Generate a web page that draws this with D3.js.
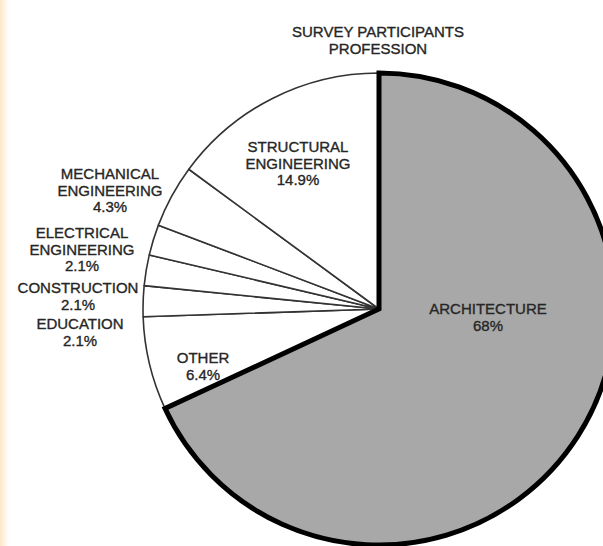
<!DOCTYPE html>
<html>
<head>
<meta charset="utf-8">
<script src="https://cdn.jsdelivr.net/npm/d3@7/dist/d3.min.js"></script>
<style>
  html, body { margin: 0; padding: 0; background: #ffffff; }
  svg { display: block; }
  text { font-family: "Liberation Sans", Arial, Helvetica, sans-serif; font-size: 15px; fill: #262626; stroke: #262626; stroke-width: 0.35px; }
</style>
</head>
<body>
<script>
// Survey participants by profession (percent), clockwise from 12 o'clock
const categories = ["ARCHITECTURE", "OTHER", "EDUCATION", "CONSTRUCTION",
                    "ELECTRICAL ENGINEERING", "MECHANICAL ENGINEERING", "STRUCTURAL ENGINEERING"];
const shares = [68, 6.4, 2.1, 2.1, 2.1, 4.3, 14.9];
const labelLines = [["ARCHITECTURE"], ["OTHER"], ["EDUCATION"], ["CONSTRUCTION"],
                    ["ELECTRICAL", "ENGINEERING"], ["MECHANICAL", "ENGINEERING"], ["STRUCTURAL", "ENGINEERING"]];
const titleLines = ["SURVEY PARTICIPANTS", "PROFESSION"];

// Layout
const W = 603, H = 546;
const cx = 379, cy = 309, R = 236;
const lineH = 16.5;
// label anchors, relative to the pie centre (x = text centre, y = first baseline)
const labelAt = [[109, 5], [-176, 54], [-299, 20], [-301, -16], [-297, -71], [-269, -130], [-81, -157]];

const svg = d3.select("body").append("svg").attr("width", W).attr("height", H);

// soft tinted strip along the left edge
const grad = svg.append("defs").append("linearGradient").attr("id", "edge")
  .attr("x1", 0).attr("x2", 1).attr("y1", 0).attr("y2", 0);
grad.append("stop").attr("offset", 0).attr("stop-color", "#fde6c8");
grad.append("stop").attr("offset", 0.5).attr("stop-color", "#fff4e4");
grad.append("stop").attr("offset", 1).attr("stop-color", "#ffffff");
svg.append("rect").attr("width", W).attr("height", H).attr("fill", "#ffffff");
svg.append("rect").attr("width", 9).attr("height", H).attr("fill", "url(#edge)");

const data = categories.map((c, i) => ({ name: c, value: shares[i], lines: labelLines[i], at: labelAt[i] }));

const pie = d3.pie().value(d => d.value).sort(null).startAngle(0).endAngle(2 * Math.PI);
const arcs = pie(data);
const arc = d3.arc().innerRadius(0).outerRadius(R);

const g = svg.append("g").attr("transform", `translate(${cx},${cy})`);

// minor slices: white with thin outlines
g.selectAll("path.minor")
  .data(arcs.filter(a => a.index !== 0))
  .join("path")
  .attr("class", "minor")
  .attr("d", arc)
  .attr("fill", "#ffffff")
  .attr("stroke", "#333333")
  .attr("stroke-width", 1.6)
  .attr("stroke-linejoin", "round");

// dominant slice: grey with heavy outline
g.selectAll("path.major")
  .data(arcs.filter(a => a.index === 0))
  .join("path")
  .attr("class", "major")
  .attr("d", arc)
  .attr("fill", "#a8a8a8")
  .attr("stroke", "#000000")
  .attr("stroke-width", 5)
  .attr("stroke-linejoin", "miter")
  .attr("stroke-miterlimit", 10);

// slice labels: name lines followed by the share
const labels = g.selectAll("text.lbl")
  .data(arcs)
  .join("text")
  .attr("class", "lbl")
  .attr("text-anchor", "middle")
  .attr("x", d => d.data.at[0])
  .attr("y", d => d.data.at[1]);

labels.each(function (d) {
  const t = d3.select(this);
  const lines = d.data.lines.concat([`${d.data.value}%`]);
  lines.forEach((s, i) => {
    t.append("tspan")
      .attr("x", d.data.at[0])
      .attr("y", d.data.at[1] + i * lineH)
      .text(s);
  });
});

// title
const title = svg.append("text").attr("text-anchor", "middle");
titleLines.forEach((s, i) => {
  title.append("tspan").attr("x", cx - 1).attr("y", 37 + i * 17).text(s);
});
</script>
</body>
</html>
